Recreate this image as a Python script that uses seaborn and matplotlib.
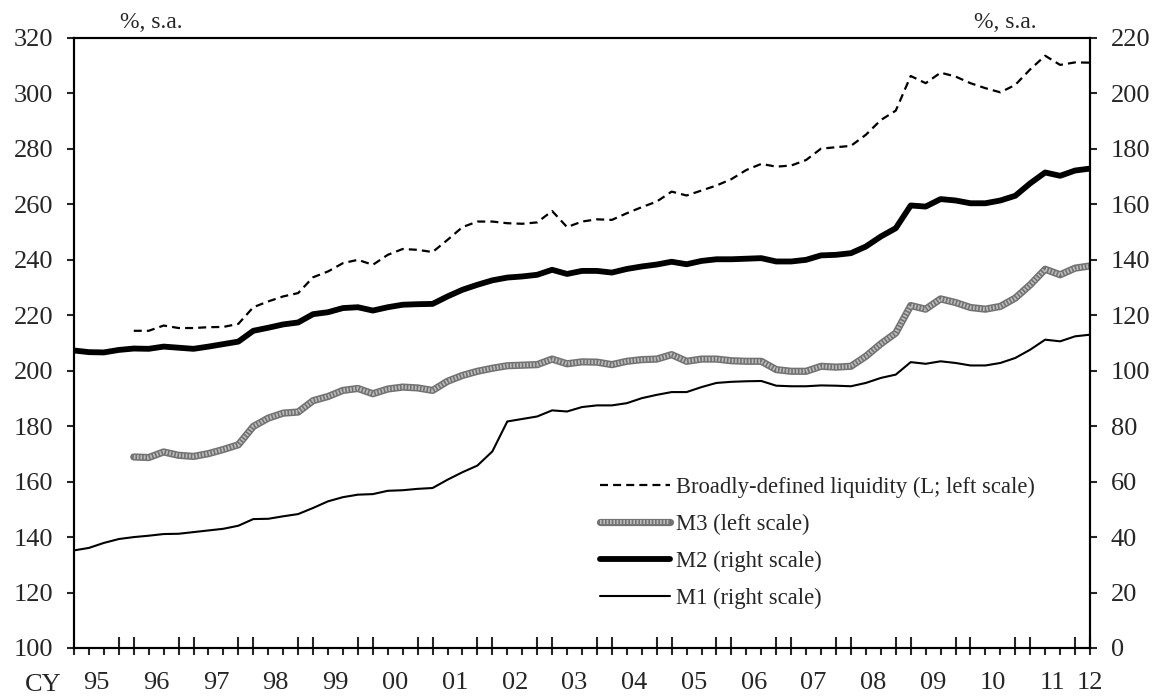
import numpy as np
import pandas as pd
import matplotlib
matplotlib.use('Agg')
import matplotlib.pyplot as plt
import seaborn as sns
from matplotlib.lines import Line2D
from matplotlib.legend_handler import HandlerTuple

sns.set_style('white')
plt.rcParams['font.family'] = ['Liberation Serif', 'DejaVu Serif']

# quarterly data, 1995Q1 .. 2012Q1 (ratio to nominal GDP, %)
quarters = pd.period_range('1995Q1', '2012Q1', freq='Q').astype(str)
year_labels = ['95', '96', '97', '98', '99', '00', '01', '02', '03', '04',
               '05', '06', '07', '08', '09', '10', '11', '12']

# left scale series (start 1996Q1)
liquidity_L = [np.nan] * 4 + [
    214.4, 214.4, 216.3, 215.4, 215.4, 215.7, 215.8, 216.9, 222.9, 225.0,
    226.8, 228.0, 233.7, 235.8, 238.8, 240.0, 238.2, 241.8, 243.9, 243.6,
    242.8, 247.2, 251.8, 253.8, 253.8, 253.2, 253.0, 253.5, 257.6, 251.8,
    253.8, 254.6, 254.4, 256.8, 259.0, 261.0, 264.6, 263.2, 265.0, 266.8,
    269.1, 272.4, 274.6, 273.6, 274.0, 276.0, 280.1, 280.6, 281.1, 285.1,
    290.4, 293.8, 306.3, 303.7, 307.5, 306.1, 303.7, 301.9, 300.4, 303.1,
    308.7, 313.6, 310.3, 311.2, 311.1]
m3 = [np.nan] * 4 + [
    168.9, 168.7, 170.7, 169.5, 169.1, 170.1, 171.6, 173.3, 179.9, 182.9,
    184.7, 185.1, 189.2, 190.7, 192.9, 193.6, 191.7, 193.4, 194.1, 193.8,
    192.9, 196.2, 198.3, 199.8, 200.9, 201.8, 202.0, 202.2, 204.2, 202.5,
    203.2, 203.1, 202.2, 203.4, 204.0, 204.2, 205.8, 203.4, 204.2, 204.2,
    203.6, 203.4, 203.4, 200.4, 199.8, 199.8, 201.6, 201.3, 201.6, 205.2,
    209.7, 213.6, 223.5, 222.2, 225.9, 224.6, 222.8, 222.2, 223.2, 226.2,
    231.0, 236.6, 234.6, 237.0, 237.8]

# right scale series
m2 = [107.3, 106.7, 106.6, 107.5, 108.0, 107.9, 108.7, 108.3, 107.9, 108.7,
      109.6, 110.5, 114.4, 115.5, 116.7, 117.4, 120.4, 121.1, 122.6, 122.9,
      121.7, 122.9, 123.8, 124.0, 124.1, 126.8, 129.2, 131.0, 132.6, 133.6,
      134.0, 134.6, 136.4, 134.9, 136.0, 136.0, 135.4, 136.7, 137.6, 138.3,
      139.3, 138.4, 139.6, 140.2, 140.2, 140.4, 140.6, 139.4, 139.4, 140.0,
      141.6, 141.8, 142.4, 144.8, 148.4, 151.4, 159.6, 159.2, 161.9, 161.4,
      160.4, 160.4, 161.4, 163.1, 167.6, 171.5, 170.3, 172.2, 172.9]
m1 = [35.2, 36.1, 37.9, 39.3, 40.0, 40.5, 41.1, 41.2, 41.8, 42.4,
      43.0, 44.1, 46.5, 46.6, 47.5, 48.3, 50.5, 52.9, 54.4, 55.3,
      55.5, 56.7, 56.9, 57.4, 57.7, 60.7, 63.4, 65.8, 70.9, 81.7,
      82.6, 83.5, 85.7, 85.3, 86.9, 87.5, 87.5, 88.3, 90.1, 91.3,
      92.3, 92.3, 94.1, 95.6, 96.0, 96.2, 96.3, 94.6, 94.4, 94.4,
      94.7, 94.6, 94.4, 95.6, 97.4, 98.6, 103.1, 102.5, 103.4, 102.8,
      101.9, 101.9, 102.8, 104.6, 107.6, 111.2, 110.6, 112.4, 113.0]

labels = ['Broadly-defined liquidity (L; left scale)', 'M3 (left scale)',
          'M2 (right scale)', 'M1 (right scale)']

df = pd.DataFrame({'quarter': quarters, 'L': liquidity_L, 'M3': m3,
                   'M2': m2, 'M1': m1})
df['idx'] = np.arange(len(df))
n = len(df)

fig = plt.figure(figsize=(11.62, 6.99), dpi=100)
ax = fig.add_axes([74 / 1162, 1 - 648 / 699, 1016 / 1162, 610 / 699])
ax2 = ax.twinx()

# line styles
dash = (0, (3.6, 2.3))
m3_dots = (0, (0.4, 0.4))
sty_l = dict(color='black', lw=1.6, linestyle=dash)
sty_m3a = dict(color='#727272', lw=5.2)
sty_m3b = dict(color='#bcbcbc', lw=3.0, linestyle=m3_dots)
sty_m2 = dict(color='black', lw=4.2)
sty_m1 = dict(color='black', lw=1.5)

sns.lineplot(data=df, x='idx', y='L', ax=ax, estimator=None, sort=False, **sty_l)
sns.lineplot(data=df, x='idx', y='M3', ax=ax, estimator=None, sort=False, **sty_m3a)
sns.lineplot(data=df, x='idx', y='M3', ax=ax, estimator=None, sort=False, **sty_m3b)
sns.lineplot(data=df, x='idx', y='M2', ax=ax2, estimator=None, sort=False, **sty_m2)
sns.lineplot(data=df, x='idx', y='M1', ax=ax2, estimator=None, sort=False, **sty_m1)

ax.set_xlim(0, n - 1)
ax.set_ylim(100, 320)
ax2.set_ylim(0, 220)
ax.set_yticks(np.arange(100, 321, 20))
ax2.set_yticks(np.arange(0, 221, 20))
ax.set_xlabel('')
ax.set_ylabel('')
ax2.set_ylabel('')

# year labels centred on each calendar year, last one on 2012Q1
lab_pos = [1.5 + 4 * i for i in range(len(year_labels) - 1)] + [n - 1]
ax.set_xticks(lab_pos)
ax.set_xticklabels(year_labels)
ax.tick_params(axis='x', which='major', bottom=True, length=0, pad=17, labelsize=19)
ax.tick_params(axis='y', direction='out', length=5, width=1.5, pad=10,
               labelsize=19, left=True)
ax2.tick_params(axis='y', direction='out', length=5, width=1.5, pad=10,
                labelsize=19, right=True)

# short tick at every quarter
sec_q = ax.secondary_xaxis('bottom')
sec_q.set_xticks(np.arange(n))
sec_q.tick_params(bottom=True, direction='out', length=5, width=1.5,
                  labelbottom=False)
sec_q.spines['bottom'].set_visible(False)

# long ticks at the year boundaries (Q4 and following Q1)
long_pos = [q for q in range(n) if q % 4 in (0, 3) and q > 0]
sec_y = ax.secondary_xaxis('bottom')
sec_y.set_xticks(long_pos)
sec_y.tick_params(bottom=True, direction='in', length=8, width=1.5,
                  labelbottom=False)
sec_y.spines['bottom'].set_visible(False)

for a in (ax, ax2):
    for s in a.spines.values():
        s.set_linewidth(1.5)
        s.set_color('black')

ax.text(-0.0305, -0.0607, 'CY', transform=ax.transAxes, fontsize=19,
        ha='center', va='center')
fig.text(151 / 1162, 1 - 22 / 699, '%, s.a.', fontsize=17, ha='center', va='center')
fig.text(1005 / 1162, 1 - 22 / 699, '%, s.a.', fontsize=17, ha='center', va='center')

handles = [Line2D([], [], **sty_l),
           (Line2D([], [], **sty_m3a), Line2D([], [], **sty_m3b)),
           Line2D([], [], **sty_m2),
           Line2D([], [], **sty_m1)]
fig.legend(handles, labels,
           handler_map={tuple: HandlerTuple(ndivide=1, pad=0)},
           loc='upper left', bbox_to_anchor=(600 / 1162, 1 - 477 / 699),
           frameon=False, fontsize=16.3, handlelength=3.1, handletextpad=0.27,
           labelspacing=0.7, borderpad=0, borderaxespad=0)

fig.savefig('out.png', dpi=100)
